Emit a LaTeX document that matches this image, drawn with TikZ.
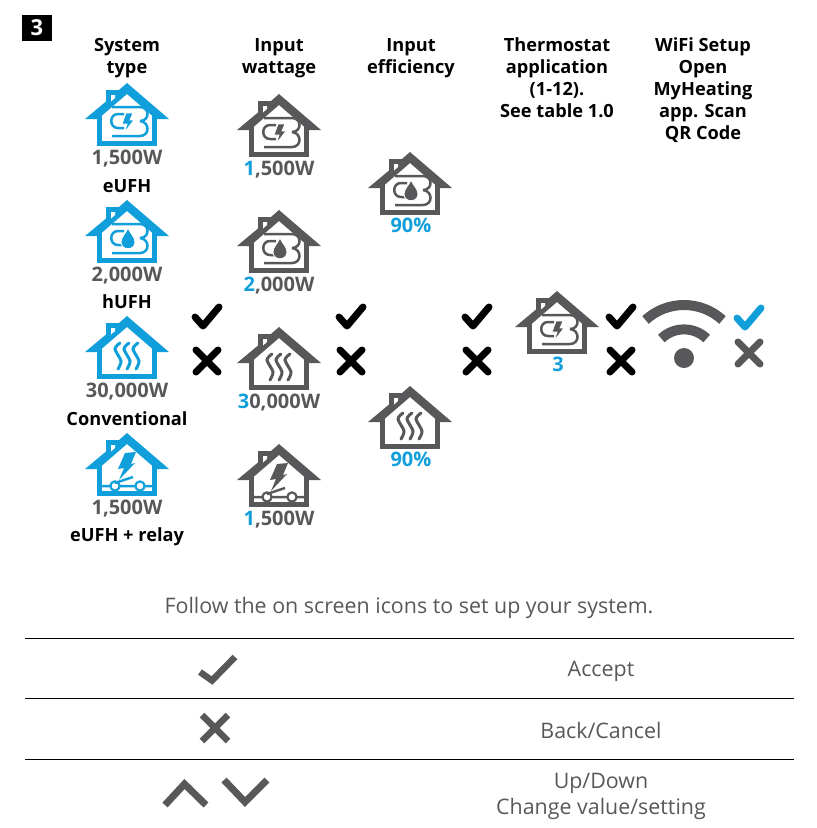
\documentclass[tikz,border=0pt]{standalone}
\usepackage{fontspec}
\setmainfont{Open Sans}
\usetikzlibrary{positioning}
\definecolor{iconblue}{HTML}{119FDB}
\definecolor{icongrey}{HTML}{58585A}
\tikzset{
	heading/.style={align=center,anchor=north,inner sep=0pt,font=\bfseries\fontsize{18.2}{22}\selectfont},
	wattage/.style={inner sep=0pt,text=icongrey,text height=14pt,text depth=3pt,font=\bfseries\fontsize{20}{22}\selectfont},
	systemname/.style={inner sep=0pt,font=\bfseries\fontsize{18.2}{22}\selectfont},
	legend/.style={align=center,inner sep=0pt,text=icongrey,font=\fontsize{21.4}{26}\selectfont},
	rowline/.style={draw=black,line width=1pt},
	blueicon/.style={color=iconblue},
	greyicon/.style={color=icongrey},
	housebody/.pic={
		\fill (-42,36) -- (-21,18.5) -- (-21,7) -- (-8,7) -- (0,0) -- (42,36) -- (29,36) -- (0,11) -- (-29,36) -- cycle;
		\fill[white] (-16,12) -- (-12,12) -- (-12,15) -- (-16,18.5) -- cycle;
		\draw[line width=5pt] (-27.5,30) -- (-27.5,60.5) -- (27.5,60.5) -- (27.5,30);
	},
	pipes/.pic={
		\draw[line width=2.5pt] (-15,24) -- (13,24) .. controls (23,24) and (23,38) .. (13,38);
		\draw[line width=2.5pt] (-15,53) -- (13,53) .. controls (23,53) and (23,39) .. (13,38);
		\draw[line width=2.5pt] (-3,31) -- (-9,31) .. controls (-18,31) and (-18,45) .. (-9,45) -- (-3,45);
	},
	eufhhouse/.pic={
		\pic {housebody}; \pic {pipes};
		\filldraw[draw=white,line width=.8pt] (-1,30) -- (6,30) -- (3,37) -- (7,37) -- (-3,50) -- (0,41) -- (-5,41) -- cycle;
	},
	hufhhouse/.pic={
		\pic {housebody}; \pic {pipes};
		\filldraw[draw=white,line width=.8pt] (1,28) .. controls (3,33) and (8,37) .. (8,42) .. controls (8,51) and (-6,51) .. (-6,42) .. controls (-6,37) and (-1,33) .. (1,28) -- cycle;
	},
	radiatorhouse/.pic={
		\pic {housebody};
		\foreach \w in {-9,0,9}
			\draw[line width=3pt,line cap=round] plot[smooth] coordinates {(\w+2,27) (\w-3,33) (\w+3,45) (\w,53)};
	},
	relayhouse/.pic={
		\pic {housebody};
		\fill (-2,20) -- (9,19) -- (4,31) -- (8,30) -- (-8,47) -- (-3,35) -- (-9,36) -- cycle;
		\draw[line width=2.5pt] (-27,53) -- (-17,53) (-7,53) -- (8,53) (18,53) -- (27,53) (-12,50) -- (6,44);
		\draw[line width=2.2pt] (-12,53) circle (4.6pt) (13,53) circle (4.6pt);
	},
	tickmark/.pic={\draw[line width=7pt,line cap=round,line join=round] (-12,0) -- (-4,9) -- (12,-10);},
	crossmark/.pic={\draw[line width=7pt,line cap=round] (-11,-11) -- (11,11) (-11,11) -- (11,-11);},
}
\begin{document}
\begin{tikzpicture}[x=1pt,y=-1pt]
	\useasboundingbox (0,0) rectangle (817,828);
	% step number
	\node[fill=black,text=white,minimum width=30pt,minimum height=26pt,inner sep=0pt,font=\bfseries\fontsize{22}{22}\selectfont] (num) at (37,28) {3};
	% headings
	\node[heading] (h1) at (127,38.5) {System\\type};
	\node[heading] (h2) at (279,38.5) {Input\\wattage};
	\node[heading] (h3) at (411,38) {Input\\efficiency};
	\node[heading] (h4) at (557,37) {Thermostat\\application\\(1-12).\\See table 1.0};
	\node[heading] (h5) at (703,37) {WiFi Setup\\Open\\MyHeating\\app. Scan\\QR Code};
	% system type
	\coordinate (s1) at (127,83);
	\coordinate (s2) at (127,200);
	\coordinate (s3) at (127,316);
	\coordinate (s4) at (127,433);
	\pic[blueicon] at (s1) {eufhhouse};
	\pic[blueicon] at (s2) {hufhhouse};
	\pic[blueicon] at (s3) {radiatorhouse};
	\pic[blueicon] at (s4) {relayhouse};
	\node[wattage,below=67pt of s1] (sw1) {1,500W};
	\node[wattage,below=67pt of s2] (sw2) {2,000W};
	\node[wattage,below=67pt of s3] (sw3) {30,000W};
	\node[wattage,below=67pt of s4] (sw4) {1,500W};
	\node[systemname] (n1) at (127,186) {eUFH};
	\node[systemname] (n2) at (127,302) {hUFH};
	\node[systemname] (n3) at (127,419) {Conventional};
	\node[systemname] (n4) at (127,537) {eUFH + relay};
	% input wattage
	\coordinate (w1) at (279,94);
	\coordinate (w2) at (279,210);
	\coordinate (w3) at (279,327);
	\coordinate (w4) at (279,444);
	\pic[greyicon] at (w1) {eufhhouse};
	\pic[greyicon] at (w2) {hufhhouse};
	\pic[greyicon] at (w3) {radiatorhouse};
	\pic[greyicon] at (w4) {relayhouse};
	\node[wattage,below=67pt of w1] (ww1) {\textcolor{iconblue}{1},500W};
	\node[wattage,below=67pt of w2] (ww2) {\textcolor{iconblue}{2},000W};
	\node[wattage,below=67pt of w3] (ww3) {\textcolor{iconblue}{3}0,000W};
	\node[wattage,below=67pt of w4] (ww4) {\textcolor{iconblue}{1},500W};
	% input efficiency
	\coordinate (e1) at (410,152);
	\coordinate (e2) at (410,386);
	\pic[greyicon] at (e1) {hufhhouse};
	\pic[greyicon] at (e2) {radiatorhouse};
	\node[wattage,text=iconblue,below=66pt of e1,xshift=1pt] (ee1) {90\%};
	\node[wattage,text=iconblue,below=66pt of e2,xshift=1pt] (ee2) {90\%};
	% thermostat application
	\coordinate (t1) at (557,291);
	\pic[greyicon] at (t1) {eufhhouse};
	\node[wattage,text=iconblue,below=66pt of t1,xshift=1pt] (tt1) {3};
	% ticks and crosses
	\foreach \x in {207,351,477,621} {
		\pic at (\x,317) {tickmark};
		\pic at (\x,361) {crossmark};
	}
	\pic[blueicon] at (749,318) {tickmark};
	\pic[greyicon] at (749,353) {crossmark};
	% wifi
	\coordinate (wifi) at (684,362);
	\fill[icongrey] (684,358) circle (10pt);
	\draw[icongrey,line width=10pt] (wifi) ++(227.5:57) arc (227.5:312.5:57);
	\draw[icongrey,line width=10pt] (wifi) ++(226:32.6) arc (226:314:32.6);
	% legend
	\node[legend] (follow) at (409,607.5) {Follow the on screen icons to set up your system.};
	\coordinate (l1a) at (25,638.5);  \coordinate (l1b) at (794,638.5);
	\coordinate (l2a) at (25,698.5);  \coordinate (l2b) at (794,698.5);
	\coordinate (l3a) at (25,759.5);  \coordinate (l3b) at (794,759.5);
	\draw[rowline] (l1a) -- (l1b);
	\draw[rowline] (l2a) -- (l2b);
	\draw[rowline] (l3a) -- (l3b);
	\node[legend] (accept) at (601,671) {Accept};
	\node[legend] (back) at (601,730) {Back/Cancel};
	\node[legend] (updown) at (601,796) {Up/Down\\Change value/setting};
	\draw[icongrey,line width=6.5pt] (200,672) -- (212,680.5) -- (235,657);
	\draw[icongrey,line width=6.5pt] (202,715) -- (228,741) (202,741) -- (228,715);
	\draw[icongrey,line width=7pt] (165,805) -- (184.5,784) -- (206,805);
	\draw[icongrey,line width=7pt] (224,780) -- (245,802) -- (267,780);
\end{tikzpicture}
\end{document}
